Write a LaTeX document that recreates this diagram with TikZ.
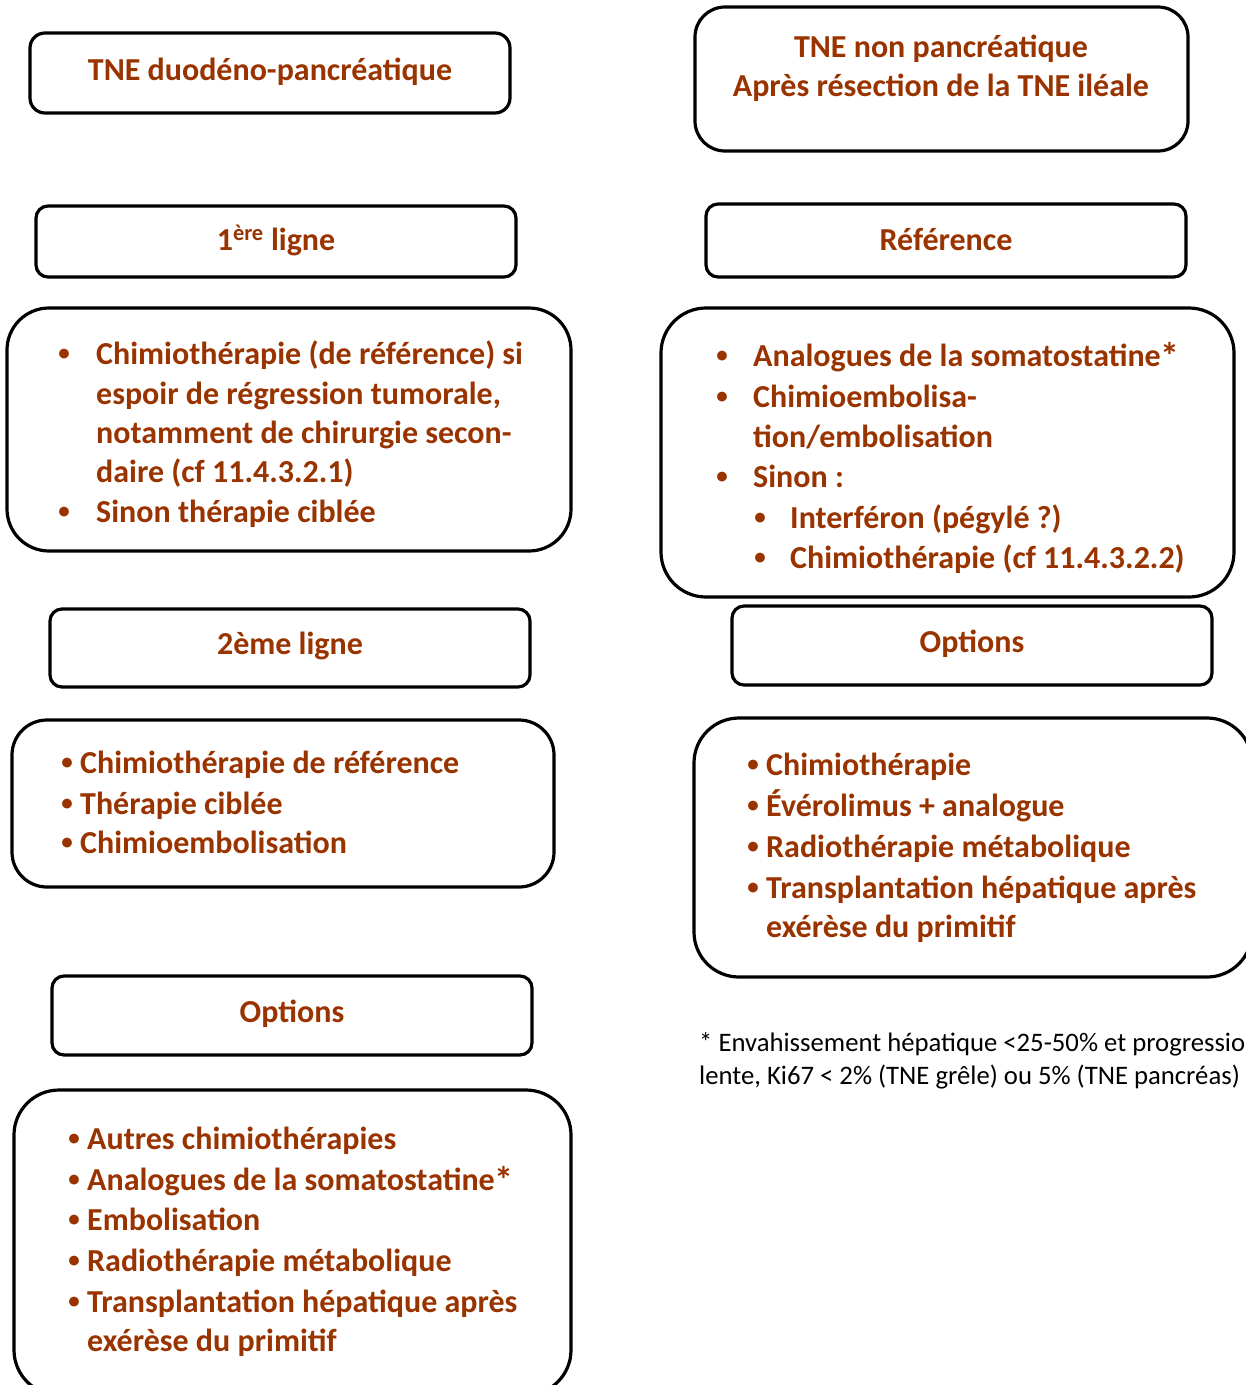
\documentclass[tikz,border=0pt]{standalone}
\usepackage{fontspec}
\setmainfont{Carlito}
\definecolor{tc}{RGB}{153,51,0}
\definecolor{tcb}{RGB}{156,70,10}
\newcommand{\bigast}{{\fontsize{38}{39}\selectfont\raisebox{-3pt}{*}}}
\newcommand{\bltdot}{{\fontsize{23}{23}\selectfont\raisebox{3.5pt}{•}}}
\tikzset{
  box/.style={draw=black, line width=3.2pt, rounded corners=#1, inner sep=0pt, outer sep=0pt},
  ttl/.style={font=\bfseries\fontsize{32}{39}\selectfont, text=tc, anchor=base, inner sep=0pt},
  itm/.style={ttl, anchor=base west},
  bul/.style={ttl, anchor=base},
  note/.style={font=\fontsize{26.7}{33}\selectfont, text=black, anchor=base west, inner sep=0pt}
}
\begin{document}
\begin{tikzpicture}[x=1pt,y=-1pt]
\useasboundingbox (0,0) rectangle (1246,1385);
\clip (0,0) rectangle (1246,1385);
\fill[white] (0,0) rectangle (1246,1385);
% boxes
\node[box=15, minimum width=480pt, minimum height=80pt] (b1) at (270,73) {};
\node[box=30, minimum width=493pt, minimum height=144pt] (b2) at (941.5,79) {};
\node[box=12, minimum width=480pt, minimum height=71pt] (b3) at (276,241.5) {};
\node[box=12, minimum width=480pt, minimum height=73pt] (b4) at (946,240.5) {};
\node[box=42, minimum width=564pt, minimum height=243pt] (b5) at (289,429.5) {};
\node[box=45, minimum width=573pt, minimum height=289pt] (b6) at (947.5,452.5) {};
\node[box=12, minimum width=480pt, minimum height=78pt] (b7) at (290,648) {};
\node[box=12, minimum width=480pt, minimum height=79pt] (b8) at (972,645.5) {};
\node[box=35, minimum width=542pt, minimum height=167pt] (b9) at (283,803.5) {};
\node[box=45, minimum width=558pt, minimum height=259pt] (b10) at (973,847.5) {};
\node[box=12, minimum width=480pt, minimum height=79pt] (b11) at (292,1015.5) {};
\node[box=45, minimum width=557pt, minimum height=305pt] (b12) at (292.5,1242.5) {};
% titles
\node[ttl] (t1) at (270,80) {TNE duodéno-pancréatique};
\node[ttl] (t2a) at (941,57) {TNE non pancréatique};
\node[ttl] (t2b) at (941,96) {Après résection de la TNE iléale};
\node[ttl] (t3) at (276,250) {1\textsuperscript{ère} ligne};
\node[ttl] (t4) at (946,250) {Référence};
\node[ttl] (t7) at (290,654) {2ème ligne};
\node[ttl] (t8) at (972,652) {Options};
\node[ttl] (t11) at (292,1022) {Options};
% box 5
\begin{scope}[every node/.append style={text=tcb}]
\node[bul] (p1) at (64,364) {\bltdot};
\node[itm] (l1) at (96,364) {Chimiothérapie (de référence) si};
\node[itm] (l2) at (96,404) {espoir de régression tumorale,};
\node[itm] (l3) at (96,443) {notamment de chirurgie secon-};
\node[itm] (l4) at (96,482) {daire (cf 11.4.3.2.1)};
\node[bul] (p2) at (64,522) {\bltdot};
\node[itm] (l5) at (96,522) {Sinon thérapie ciblée};
\end{scope}
% box 6
\node[bul] (q1) at (722,366) {\bltdot};
\node[itm] (r1) at (753,366) {Analogues de la somatostatine\bigast};
\node[bul] (q2) at (722,407) {\bltdot};
\node[itm] (r2) at (753,407) {Chimioembolisa-};
\node[itm] (r3) at (753,447) {tion/embolisation};
\node[bul] (q3) at (722,487) {\bltdot};
\node[itm] (r4) at (753,487) {Sinon :};
\node[bul] (q4) at (760,528) {\bltdot};
\node[itm] (r5) at (790,528) {Interféron (pégylé ?)};
\node[bul] (q5) at (760,568) {\bltdot};
\node[itm] (r6) at (790,568) {Chimiothérapie (cf 11.4.3.2.2)};
% box 9
\node[bul] (s1) at (67,773) {\bltdot};
\node[itm] (u1) at (80,773) {Chimiothérapie de référence};
\node[bul] (s2) at (67,814) {\bltdot};
\node[itm] (u2) at (80,814) {Thérapie ciblée};
\node[bul] (s3) at (67,853) {\bltdot};
\node[itm] (u3) at (80,853) {Chimioembolisation};
% box 10
\node[bul] (v1) at (753,775) {\bltdot};
\node[itm] (w1) at (766,775) {Chimiothérapie};
\node[bul] (v2) at (753,816) {\bltdot};
\node[itm] (w2) at (766,816) {Évérolimus + analogue};
\node[bul] (v3) at (753,857) {\bltdot};
\node[itm] (w3) at (766,857) {Radiothérapie métabolique};
\node[bul] (v4) at (753,898) {\bltdot};
\node[itm] (w4) at (766,898) {Transplantation hépatique après};
\node[itm] (w5) at (766,937) {exérèse du primitif};
% box 12
\node[bul] (x1) at (74,1149) {\bltdot};
\node[itm] (y1) at (87,1149) {Autres chimiothérapies};
\node[bul] (x2) at (74,1190) {\bltdot};
\node[itm] (y2) at (87,1190) {Analogues de la somatostatine\bigast};
\node[bul] (x3) at (74,1230) {\bltdot};
\node[itm] (y3) at (87,1230) {Embolisation};
\node[bul] (x4) at (74,1271) {\bltdot};
\node[itm] (y4) at (87,1271) {Radiothérapie métabolique};
\node[bul] (x5) at (74,1312) {\bltdot};
\node[itm] (y5) at (87,1312) {Transplantation hépatique après};
\node[itm] (y6) at (87,1351) {exérèse du primitif};
% footnote
\node[note] (n1) at (699,1051) {* Envahissement hépatique <25-50\% et progression};
\node[note] (n2) at (699,1084) {lente, Ki67 < 2\% (TNE grêle) ou 5\% (TNE pancréas)};
\end{tikzpicture}
\end{document}
